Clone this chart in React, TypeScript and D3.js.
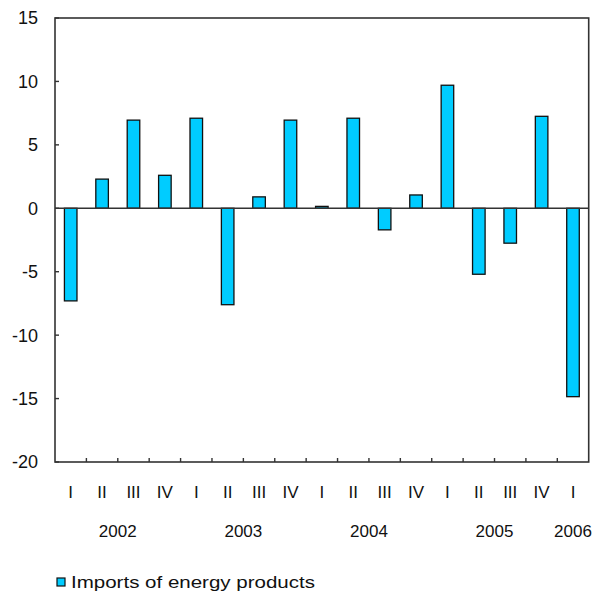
import React from "react";
import * as d3 from "d3";

const quarters = ["I", "II", "III", "IV", "I", "II", "III", "IV", "I", "II", "III", "IV", "I", "II", "III", "IV", "I"];
const quarterYears = [2002, 2002, 2002, 2002, 2003, 2003, 2003, 2003, 2004, 2004, 2004, 2004, 2005, 2005, 2005, 2005, 2006];
const values = [-7.3, 2.3, 6.95, 2.6, 7.1, -7.6, 0.9, 6.95, 0.15, 7.1, -1.7, 1.05, 9.7, -5.2, -2.75, 7.25, -14.85];
const yTicks = [15, 10, 5, 0, -5, -10, -15, -20];
const seriesName = "Imports of energy products";

const W = 598;
const H = 597;
const margin = { left: 55, right: 9.3, top: 18, bottom: 135 };
const font = "'Liberation Sans', Arial, sans-serif";

const App: React.FC = () => {
  const ids = quarters.map((_, i) => String(i));
  const x = d3
    .scaleBand<string>()
    .domain(ids)
    .range([margin.left, W - margin.right])
    .paddingInner(0.6)
    .paddingOuter(0.3);
  // band boundaries for tick marks
  const step = x.step();
  const x0 = margin.left;
  const y = d3.scaleLinear().domain([-20, 15]).range([H - margin.bottom, margin.top]);

  const years = Array.from(new Set(quarterYears));
  const yearPos = years.map((yr) => {
    const idx = ids.filter((_, i) => quarterYears[i] === yr);
    const cs = idx.map((id) => (x(id) ?? 0) + x.bandwidth() / 2);
    return { yr, cx: d3.mean(cs) ?? 0 };
  });

  const plotRight = W - margin.right;
  const plotBottom = y(-20);
  const axisColor = "#333";

  return (
    <svg
      width={W}
      height={H}
      style={{ position: "absolute", left: 0, top: 0, background: "#fff" }}
      fontFamily={font}
    >
      {/* frame */}
      <rect
        x={margin.left}
        y={margin.top}
        width={plotRight - margin.left}
        height={plotBottom - margin.top}
        fill="none"
        stroke={axisColor}
        strokeWidth={1.6}
      />
      {/* y ticks + labels */}
      {yTicks.map((t) => (
        <g key={t}>
          <line x1={margin.left} x2={margin.left + 4} y1={y(t)} y2={y(t)} stroke={axisColor} strokeWidth={1.4} />
          <text x={38} y={y(t)} dy="0.36em" textAnchor="end" fontSize={18} fill="#111">
            {t}
          </text>
        </g>
      ))}
      {/* x ticks between quarters */}
      {d3.range(1, quarters.length).map((i) => (
        <line
          key={i}
          x1={x0 + i * step}
          x2={x0 + i * step}
          y1={plotBottom}
          y2={plotBottom - 4}
          stroke={axisColor}
          strokeWidth={1.4}
        />
      ))}
      {/* bars */}
      {values.map((v, i) => (
        <rect
          key={i}
          x={x(ids[i])}
          y={y(Math.max(0, v))}
          width={x.bandwidth()}
          height={Math.abs(y(v) - y(0))}
          fill="#00CCFF"
          stroke="#111"
          strokeWidth={1.3}
        />
      ))}
      {/* zero line */}
      <line x1={margin.left} x2={plotRight} y1={y(0)} y2={y(0)} stroke={axisColor} strokeWidth={1.4} />
      {/* quarter labels */}
      {quarters.map((q, i) => (
        <text
          key={i}
          x={(x(ids[i]) ?? 0) + x.bandwidth() / 2}
          y={492}
          dy="0.36em"
          textAnchor="middle"
          fontSize={17}
          fill="#111"
        >
          {q}
        </text>
      ))}
      {/* year labels */}
      {yearPos.map((d) => (
        <text key={d.yr} x={d.cx} y={531} dy="0.36em" textAnchor="middle" fontSize={17} fill="#111">
          {d.yr}
        </text>
      ))}
      {/* legend */}
      <rect x={57} y={578} width={8} height={8} fill="#00CCFF" stroke="#111" strokeWidth={1.2} />
      <text x={71} y={582} dy="0.36em" fontSize={17} fill="#111" textLength={244} lengthAdjust="spacingAndGlyphs">
        {seriesName}
      </text>
    </svg>
  );
};

export default App;
